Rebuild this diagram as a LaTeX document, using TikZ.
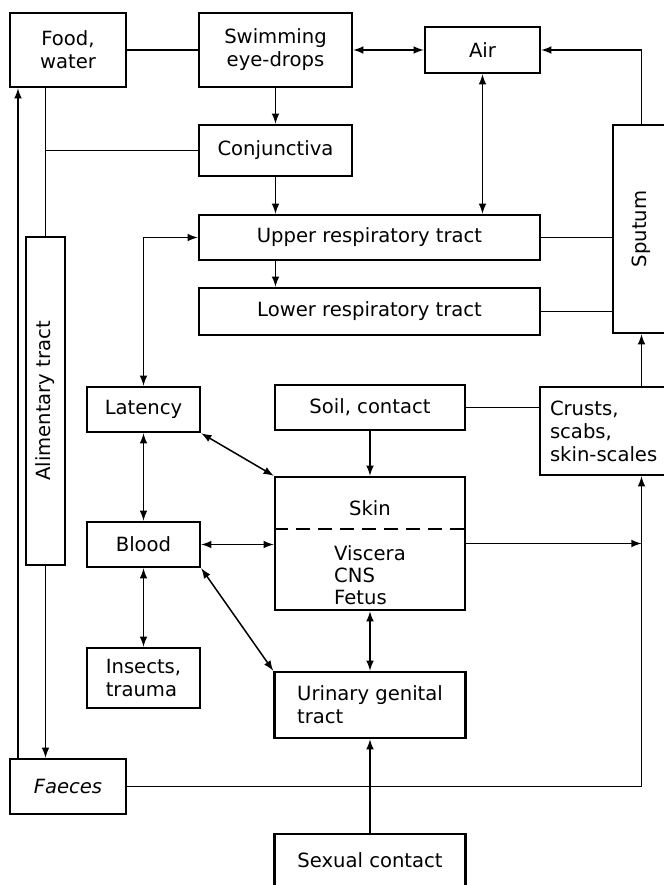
\documentclass[tikz,border=0pt]{standalone}
\usepackage{fontspec}
\setmainfont{DejaVu Sans}
\usepackage{graphicx}
\usetikzlibrary{positioning,arrows}

\tikzset{
  box/.style={draw,line width=1.3pt,inner sep=2pt,align=center,font=\fontsize{9.8}{11.5}\selectfont},
  txt/.style={inner sep=0pt,font=\fontsize{9.8}{11}\selectfont},
  link/.style={line width=0.75pt},
}

\begin{document}
\begin{tikzpicture}[x=0.5pt,y=-0.5pt,>=latex]
    \useasboundingbox (0,0) rectangle (664,885);
    \node[box,minimum width=58pt,minimum height=37pt] (food) at (68,50) {Food,\\water};
    \node[box,minimum width=76.5pt,minimum height=37pt] (swim) at (275.5,50) {Swimming\\eye-drops};
    \node[box,minimum width=57.5pt,minimum height=23pt] (air) at (482.5,50) {Air};
    \node[box,minimum width=76.5pt,minimum height=25.5pt] (conj) at (275.5,150.5) {Conjunctiva};
    \node[box,minimum width=170.5pt,minimum height=22.5pt] (upper) at (369.5,237.5) {Upper respiratory tract};
    \node[box,minimum width=170.5pt,minimum height=23.5pt] (lower) at (369.5,311.5) {Lower respiratory tract};
    \node[box,minimum width=28.5pt,minimum height=104pt] (sputum) at (641.5,229) {\rotatebox{90}{Sputum}};
    \node[box,minimum width=19.5pt,minimum height=164pt] (alim) at (45.5,401) {\rotatebox{90}{Alimentary tract}};
    \node[box,minimum width=56.5pt,minimum height=22.5pt] (latency) at (143.5,409.5) {Latency};
    \node[box,minimum width=95pt,minimum height=22.5pt] (soil) at (370,407.5) {Soil, contact};
    \node[box,align=left,inner xsep=5pt,text width=55pt,minimum height=44pt] (crusts) at (605,431) {Crusts,\\scabs,\\skin-scales};
    \node[box,minimum width=95pt,minimum height=66.5pt] (skin) at (370,543.5) {};
    \node[box,minimum width=56.5pt,minimum height=22.5pt] (blood) at (143.5,544.5) {Blood};
    \node[box,align=left,minimum width=56.5pt,minimum height=30pt] (insects) at (143.5,678) {Insects,\\trauma};
    \node[box,align=left,minimum width=95.5pt,minimum height=33pt] (urinary) at (370,705) {Urinary genital\\tract};
    \node[box,minimum width=58pt,minimum height=27.5pt] (faeces) at (68,786.5) {\itshape Faeces};
    \node[box,minimum width=95.5pt,minimum height=26pt] (sexual) at (370,860) {Sexual contact};
    % skin box inside
    \node[txt] (skinlbl) at (370,508) {Skin};
    \node[txt,align=left] (organs) at (370,575) {Viscera\\CNS\\Fetus};
    \draw[line width=0.9pt,dash pattern=on 7pt off 4pt] (skin.west |- 0,529) -- (skin.east |- 0,529);
    % connectors
    \coordinate (back) at (18,0);
    \draw[link] (food) -- (swim);
    \draw[link,<->] (swim) -- (air);
    \draw[link,->] (sputum.north) |- (air.east);
    \draw[link,->] (swim) -- (conj);
    \draw[link,->] (conj.south) -- (conj.south |- upper.north);
    \draw[link,<->] (air.south) -- (air.south |- upper.north);
    \draw[link,->] (conj.south |- upper.south) -- (conj.south |- lower.north);
    \draw[link] (upper.east) -- (upper.east -| sputum.west);
    \draw[link] (lower.east) -- (lower.east -| sputum.west);
    \draw[link,<-] (sputum.south) -- (sputum.south |- crusts.north);
    \draw[link] (food.south -| alim.north) -- (alim.north);
    \draw[link] (alim.north |- conj.west) -- (conj.west);
    \draw[link,->] (alim.south) -- (alim.south |- faeces.north);
    \draw[link,->] (faeces.north -| back) -- (food.south -| back);
    \draw[link,<->] (latency.north) |- (upper.west);
    \draw[link,<->] (latency) -- (blood);
    \draw[link,<->] (latency.south east) -- (skin.north west);
    \draw[link,<->] (blood.east) -- (blood.east -| skin.west);
    \draw[link,<->] (blood.south east) -- (urinary.north west);
    \draw[link,<->] (blood) -- (insects);
    \draw[link] (crusts.west |- soil.east) -- (soil.east);
    \draw[link,->] (soil) -- (skin);
    \draw[link,<->] (skin) -- (urinary);
    \draw[link,->] (skin.east) -- (skin.east -| sputum.south);
    \draw[link,->] (faeces.east) -| (crusts.south -| sputum.south);
    \draw[link,->] (sexual) -- (urinary);
\end{tikzpicture}
\end{document}
